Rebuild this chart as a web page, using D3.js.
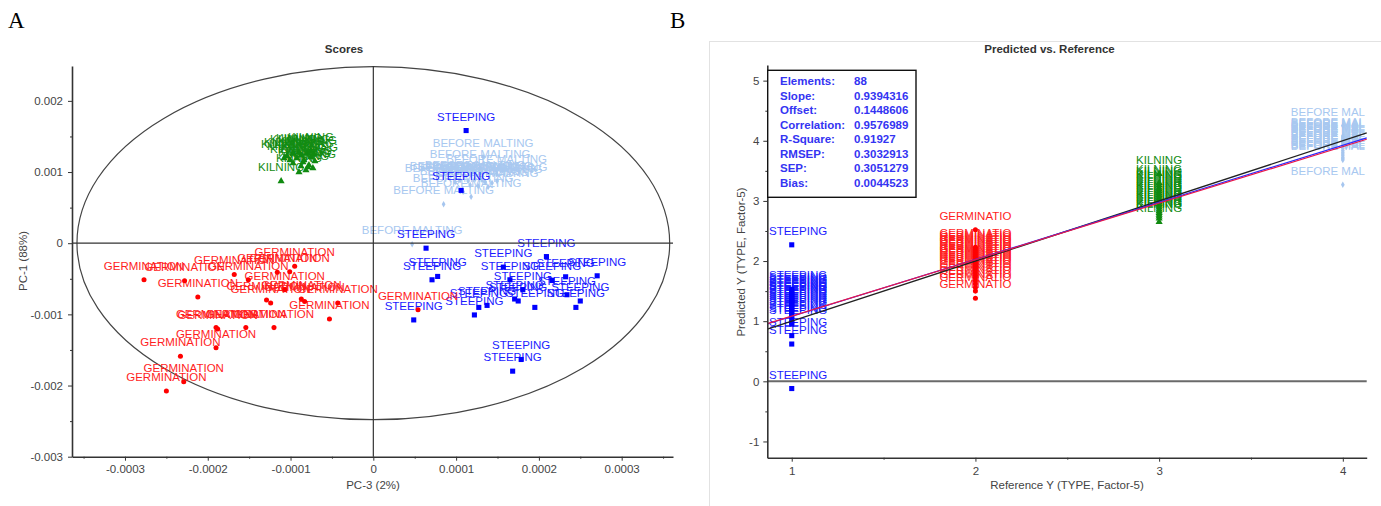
<!DOCTYPE html>
<html>
<head>
<meta charset="utf-8">
<script src="https://d3js.org/d3.v7.min.js"></script>
<style>
	body { margin: 0; background: #fff; }
	svg { display: block; font-family: 'Liberation Sans', Arial, sans-serif; }
	.tick text { fill: #444; font-size: 11.5px; }
	.domain, .tick line { stroke: #333; }
</style>
</head>
<body>
<svg id="chart" width="1381" height="506"></svg>
<script>
/*
* DATA
*/
var categories = ['STEEPING', 'GERMINATION', 'KILNING', 'BEFORE MALTING'];
var referenceY = [1, 2, 3, 4];

//Scores, [PC-3, PC-1]
var steepingScores = [
	[0.0000637, -0.000070], [0.0000709, -0.000514], [0.0000777, -0.000467], [0.0000488, -0.001078],
	[0.0001221, -0.001008], [0.0001274, -0.000902], [0.0001374, -0.000874], [0.000157, -0.000336],
	[0.000165, -0.000514], [0.0001707, -0.000784], [0.000175, -0.000812], [0.0001806, -0.000654],
	[0.0001951, -0.000902], [0.0002091, -0.000188], [0.0002159, -0.000524], [0.0002323, -0.000472],
	[0.0002339, -0.000724], [0.0002447, -0.000902], [0.000250, -0.000812], [0.0002704, -0.000458],
	[0.0001786, -0.001634], [0.0001683, -0.001798], [0.0001121, 0.001583], [0.0001061, 0.000742]
];
var germinationScores = [
	[-0.000277, -0.000514], [-0.000228, -0.000528], [-0.000212, -0.000757], [-0.000168, -0.000439],
	[-0.000151, -0.000514], [-0.000116, -0.000407], [-0.000101, -0.000402], [-0.000095, -0.000323],
	[-0.000129, -0.000799], [-0.000124, -0.000840], [-0.000107, -0.000654], [-0.000087, -0.000785],
	[-0.000083, -0.000818], [-0.000053, -0.001064], [-0.000043, -0.000840], [-0.000120, -0.001186],
	[-0.000154, -0.001186], [-0.000190, -0.001186], [-0.000188, -0.001205], [-0.000190, -0.001470],
	[-0.000233, -0.001588], [-0.000229, -0.001947], [-0.000250, -0.002078], [0.000054, -0.000934]
];
var kilningScores = [
	[-0.0001114, 0.000873], [-0.0000898, 0.000999], [-0.0000814, 0.001027], [-0.0000730, 0.001055],
	[-0.0000874, 0.001083], [-0.0000778, 0.001097], [-0.0000970, 0.001125], [-0.0000706, 0.001153],
	[-0.0000838, 0.001167], [-0.0000922, 0.001195], [-0.0000754, 0.001209], [-0.0001042, 0.001223],
	[-0.0000874, 0.001237], [-0.0000718, 0.001251], [-0.0000970, 0.001265], [-0.0000802, 0.001265],
	[-0.0001078, 0.001195], [-0.0000898, 0.001279], [-0.0000754, 0.001293], [-0.0000850, 0.001139],
	[-0.0001006, 0.001167], [-0.0000790, 0.001069]
];
var beforeMaltingScores = [
	[0.0000469, -0.000014], [0.0000849, 0.000546], [0.0001085, 0.000723], [0.0001181, 0.000653],
	[0.0001326, 0.001213], [0.000129, 0.001055], [0.000149, 0.000980], [0.0001049, 0.000887],
	[0.0001145, 0.000873], [0.000123, 0.000901], [0.000135, 0.000859], [0.0001434, 0.000845],
	[0.0001169, 0.000817], [0.0001266, 0.000803], [0.0001386, 0.000789], [0.0000989, 0.000859],
	[0.0001494, 0.000873], [0.0001314, 0.000887]
];
var ellipseRadii = [0.000358, 0.00248];

//Predicted Y for each category
var steepingPred = [2.27, 1.53, 1.50, 1.47, 1.45, 1.42, 1.40, 1.37, 1.35, 1.33, 1.30, 1.28,
	1.25, 1.22, 1.19, 1.16, 1.12, 1.08, 1.03, 0.98, 0.95, 0.76, 0.62, -0.12];
var germinationPred = [2.52, 2.23, 2.20, 2.17, 2.14, 2.11, 2.08, 2.05, 2.02, 1.99, 1.96, 1.93,
	1.90, 1.87, 1.84, 1.80, 1.76, 1.72, 1.67, 1.62, 1.56, 1.50, 1.38];
var kilningPred = [3.45, 3.30, 3.26, 3.22, 3.19, 3.16, 3.13, 3.10, 3.07, 3.04, 3.01, 2.98,
	2.95, 2.92, 2.89, 2.86, 2.83, 2.80, 2.77, 2.74, 2.71, 2.65];
var beforeMaltingPred = [4.25, 4.08, 4.06, 4.04, 4.02, 4.00, 3.98, 3.96, 3.93, 3.90, 3.87, 3.84,
	3.81, 3.78, 3.75, 3.72, 3.70, 3.68, 3.27];

//[slope, offset]
var targetLine = [1, 0];
var validationLine = [0.949, 0.13];
var regressionLine = [0.9394316, 0.1448606];

var statNames = ['Elements:', 'Slope:', 'Offset:', 'Correlation:', 'R-Square:', 'RMSEP:', 'SEP:', 'Bias:'];
var statValues = ['88', '0.9394316', '0.1448606', '0.9576989', '0.91927', '0.3032913', '0.3051279', '0.0044523'];

//Tick values
var scoreTicksX = [-0.0003, -0.0002, -0.0001, 0, 0.0001, 0.0002, 0.0003];
var scoreTicksY = [-0.003, -0.002, -0.001, 0, 0.001, 0.002];
var predTicksX = [1, 2, 3, 4];
var predTicksY = [-1, 0, 1, 2, 3, 4, 5];

/*
* STYLE
*/
var catColors = ['#0000ff', '#ff0000', '#108a10', '#a6c6ef'];
var catText = ['#1c1cff', '#ff1e1e', '#128c12', '#a8c8f0'];
var catSymbols = [
	d3.symbol().type(d3.symbolSquare).size(26),
	d3.symbol().type(d3.symbolCircle).size(20),
	d3.symbol().type(d3.symbolTriangle).size(22),
	d3.symbol().type(d3.symbolDiamond).size(12)
];

var svg = d3.select('#chart');

function midpoints(ticks, step) {
	var out = [ticks[0] - step / 2];
	ticks.forEach(function(t) { out.push(t + step / 2); });
	return out;
}

//labels centered above the point, kept inside the plot
function addLabels(g, pts, label, color, xMin, xMax) {
	g.selectAll(null).data(pts).enter().append('text')
		.attr('y', function(d) { return d[1] - 10; })
		.attr('text-anchor', 'middle')
		.attr('fill', color)
		.style('font-size', '11.5px')
		.text(label)
		.each(function(d) {
			var w = this.getComputedTextLength();
			var x = Math.max(xMin + w / 2, Math.min(xMax - w / 2, d[0]));
			d3.select(this).attr('x', x);
		});
}

function addPoints(g, pts, symbol, color) {
	g.selectAll(null).data(pts).enter().append('path')
		.attr('d', symbol)
		.attr('transform', function(d) { return 'translate(' + d[0] + ',' + d[1] + ')'; })
		.attr('fill', color);
}

function styleAxis(g) {
	g.select('.domain').attr('stroke-width', 1.6);
	g.selectAll('.tick line').attr('stroke-width', 1);
}

/*
* A: SCORES
*/
var xS = d3.scaleLinear().domain([-0.000364, 0.000362]).range([72, 673]);
var yS = d3.scaleLinear().domain([-0.003, 0.00249]).range([456.7, 66]);
var scores = svg.append('g');

scores.append('ellipse')
	.attr('cx', xS(0))
	.attr('cy', yS(0))
	.attr('rx', xS(ellipseRadii[0]) - xS(0))
	.attr('ry', yS(0) - yS(ellipseRadii[1]))
	.attr('fill', 'none')
	.attr('stroke', '#444')
	.attr('stroke-width', 1.2);

var scoreSeries = [steepingScores, germinationScores, kilningScores, beforeMaltingScores];
[2, 3, 0, 1].forEach(function(c) {
	var pts = scoreSeries[c].map(function(d) { return [xS(d[0]), yS(d[1])]; });
	addLabels(scores, pts, categories[c], catText[c], 72, 673);
	addPoints(scores, pts, catSymbols[c], catColors[c]);
});

//zero lines
scores.append('line')
	.attr('x1', xS.range()[0]).attr('x2', xS.range()[1])
	.attr('y1', yS(0)).attr('y2', yS(0))
	.attr('stroke', '#333').attr('stroke-width', 1.2);
scores.append('line')
	.attr('x1', xS(0)).attr('x2', xS(0))
	.attr('y1', yS.range()[0]).attr('y2', yS.range()[1])
	.attr('stroke', '#333').attr('stroke-width', 1.2);

//minor ticks
scores.append('g')
	.attr('transform', 'translate(0,456.7)')
	.call(d3.axisBottom(xS).tickValues(midpoints(scoreTicksX, 0.0001)).tickSize(2).tickFormat(''))
	.call(function(g) { g.select('.domain').remove(); });
scores.append('g')
	.attr('transform', 'translate(72,0)')
	.call(d3.axisLeft(yS).tickValues(midpoints(scoreTicksY, 0.001).slice(1, -1)).tickSize(2).tickFormat(''))
	.call(function(g) { g.select('.domain').remove(); });

scores.append('g')
	.attr('transform', 'translate(0,456.7)')
	.call(d3.axisBottom(xS).tickValues(scoreTicksX).tickSize(4).tickSizeOuter(0).tickPadding(4)
		.tickFormat(function(d) { return String(+d.toFixed(4)); }))
	.call(styleAxis);
scores.append('g')
	.attr('transform', 'translate(72,0)')
	.call(d3.axisLeft(yS).tickValues(scoreTicksY).tickSize(4).tickSizeOuter(0).tickPadding(5)
		.tickFormat(function(d) { return String(+d.toFixed(3)); }))
	.call(styleAxis);

scores.append('text')
	.attr('x', 344).attr('y', 53)
	.attr('text-anchor', 'middle')
	.style('font-size', '11.5px').style('font-weight', 'bold')
	.attr('fill', '#333')
	.text('Scores');
scores.append('text')
	.attr('x', 373).attr('y', 489)
	.attr('text-anchor', 'middle')
	.style('font-size', '11.5px')
	.attr('fill', '#444')
	.text('PC-3 (2%)');
scores.append('text')
	.attr('transform', 'translate(27,261) rotate(-90)')
	.attr('text-anchor', 'middle')
	.style('font-size', '11.5px')
	.attr('fill', '#444')
	.text('PC-1 (88%)');

/*
* B: PREDICTED VS REFERENCE
*/
svg.append('rect')
	.attr('x', 709.5).attr('y', 41.5)
	.attr('width', 720).attr('height', 500)
	.attr('fill', 'none')
	.attr('stroke', '#e2e2e2');

var xP = d3.scaleLinear().domain([0.867, 4.13]).range([767.3, 1366.7]);
var yP = d3.scaleLinear().domain([-1.27, 5.26]).range([457.7, 65]);
var pred = svg.append('g');

var predSeries = [steepingPred, germinationPred, kilningPred, beforeMaltingPred];
[0, 1, 2, 3].forEach(function(c) {
	var pts = predSeries[c].map(function(v) { return [xP(referenceY[c]), yP(v)]; });
	addLabels(pred, pts, categories[c].slice(0, 10), catText[c], 769, 1365);
	addPoints(pred, pts, catSymbols[c], catColors[c]);
});

pred.append('line')
	.attr('x1', xP.range()[0]).attr('x2', xP.range()[1])
	.attr('y1', yP(0)).attr('y2', yP(0))
	.attr('stroke', '#6a6a6a').attr('stroke-width', 2);

var lineSpecs = [[targetLine, '#222', 1.4], [validationLine, '#2b2bff', 1.2], [regressionLine, '#e8174a', 1.2]];
lineSpecs.forEach(function(s) {
	var x0 = xP.domain()[0], x1 = xP.domain()[1];
	pred.append('line')
		.attr('x1', xP(x0)).attr('y1', yP(s[0][0] * x0 + s[0][1]))
		.attr('x2', xP(x1)).attr('y2', yP(s[0][0] * x1 + s[0][1]))
		.attr('stroke', s[1]).attr('stroke-width', s[2]);
});

pred.append('g')
	.attr('transform', 'translate(0,457.7)')
	.call(d3.axisBottom(xP).tickValues(midpoints(predTicksX, 1).slice(1, -1)).tickSize(2).tickFormat(''))
	.call(function(g) { g.select('.domain').remove(); });
pred.append('g')
	.attr('transform', 'translate(767.3,0)')
	.call(d3.axisLeft(yP).tickValues(midpoints(predTicksY, 1).slice(1, -1)).tickSize(2).tickFormat(''))
	.call(function(g) { g.select('.domain').remove(); });

pred.append('g')
	.attr('transform', 'translate(0,457.7)')
	.call(d3.axisBottom(xP).tickValues(predTicksX).tickSize(4).tickSizeOuter(0).tickPadding(5)
		.tickFormat(function(d) { return String(d); }))
	.call(styleAxis);
pred.append('g')
	.attr('transform', 'translate(767.3,0)')
	.call(d3.axisLeft(yP).tickValues(predTicksY).tickSize(4).tickSizeOuter(0).tickPadding(4)
		.tickFormat(function(d) { return String(d); }))
	.call(styleAxis);

//statistics box
var stats = pred.append('g');
stats.append('rect')
	.attr('x', 767.7).attr('y', 70.3)
	.attr('width', 148.3).attr('height', 127)
	.attr('fill', '#fff')
	.attr('stroke', '#111').attr('stroke-width', 1.4);
statNames.forEach(function(n, i) {
	stats.append('text')
		.attr('x', 780).attr('y', 85 + i * 14.5)
		.style('font-size', '11.5px').style('font-weight', 'bold')
		.attr('fill', '#3434f2')
		.text(n);
	stats.append('text')
		.attr('x', 854).attr('y', 85 + i * 14.5)
		.style('font-size', '11.5px').style('font-weight', 'bold')
		.attr('fill', '#3434f2')
		.text(statValues[i]);
});

pred.append('text')
	.attr('x', 1049.5).attr('y', 53)
	.attr('text-anchor', 'middle')
	.style('font-size', '11.5px').style('font-weight', 'bold')
	.attr('fill', '#333')
	.text('Predicted vs. Reference');
pred.append('text')
	.attr('x', 1067).attr('y', 489)
	.attr('text-anchor', 'middle')
	.style('font-size', '11.5px')
	.attr('fill', '#444')
	.text('Reference Y (TYPE, Factor-5)');
pred.append('text')
	.attr('transform', 'translate(745,262) rotate(-90)')
	.attr('text-anchor', 'middle')
	.style('font-size', '11.5px')
	.attr('fill', '#444')
	.text('Predicted Y (TYPE, Factor-5)');

//panel letters
svg.append('text')
	.attr('x', 8).attr('y', 28)
	.style('font-family', "'Liberation Serif', 'Times New Roman', serif")
	.style('font-size', '23px')
	.text('A');
svg.append('text')
	.attr('x', 670).attr('y', 28)
	.style('font-family', "'Liberation Serif', 'Times New Roman', serif")
	.style('font-size', '23px')
	.text('B');
</script>
</body>
</html>
